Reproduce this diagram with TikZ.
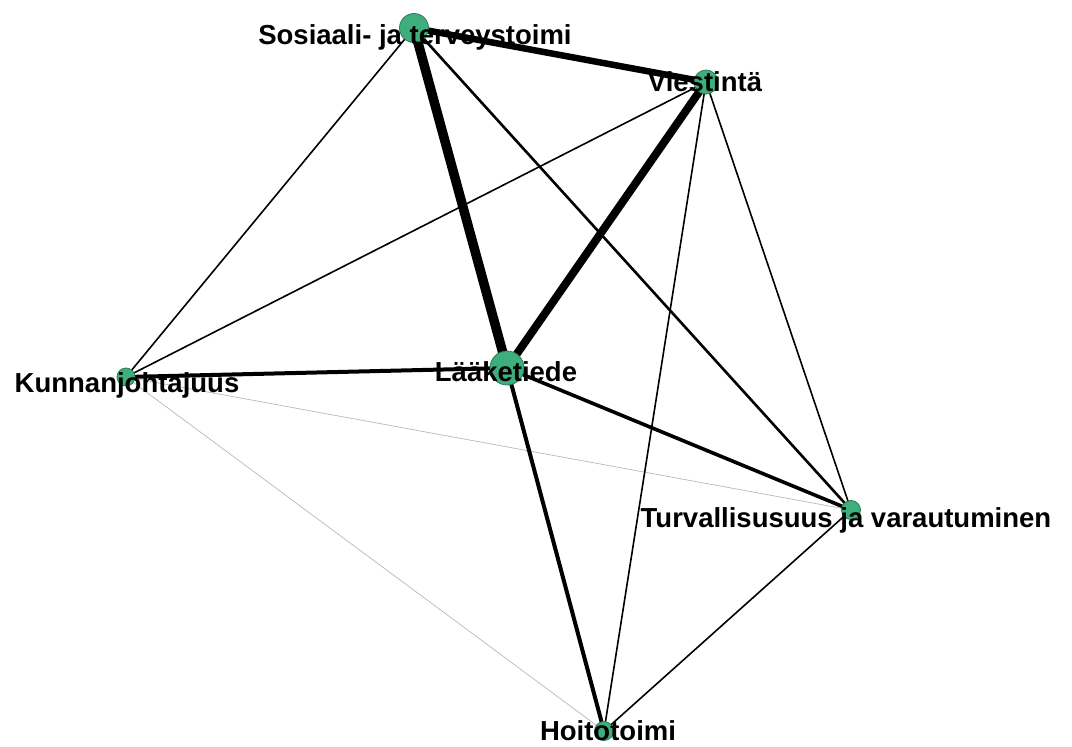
\documentclass[tikz,border=0pt]{standalone}
\usepackage{fontspec}
\setmainfont{Liberation Sans}
\begin{document}
\begin{tikzpicture}[x=1pt,y=-1pt,
  vtx/.style={circle,fill=vgreen,draw=vborder,line width=0.8pt,inner sep=0pt},
  lbl/.style={anchor=base,inner sep=0pt,font=\fontsize{27.5}{32}\selectfont\bfseries,text=black},
  e/.style={draw=black,line width=#1},
  faint/.style={draw=black!28,line width=0.7pt}]
\definecolor{vgreen}{HTML}{3DAE7C}
\definecolor{vborder}{HTML}{2C7D58}
\useasboundingbox (0,0) rectangle (1072,747);
% vertices
\coordinate (sos) at (414,28);
\coordinate (vie) at (706,82);
\coordinate (kun) at (126,377);
\coordinate (laa) at (507,368);
\coordinate (tur) at (851,510);
\coordinate (hoi) at (604,731);
% edges
\draw[faint] (kun) -- (tur);
\draw[faint] (kun) -- (hoi);
\draw[e=1.6pt] (sos) -- (kun);
\draw[e=1.6pt] (vie) -- (kun);
\draw[e=1.6pt] (vie) -- (hoi);
\draw[e=1.6pt] (vie) -- (tur);
\draw[e=1.6pt] (tur) -- (hoi);
\draw[e=2.6pt] (sos) -- (tur);
\draw[e=3.6pt] (laa) -- (tur);
\draw[e=4pt] (laa) -- (hoi);
\draw[e=4pt] (kun) -- (laa);
\draw[e=6.5pt] (sos) -- (vie);
\draw[e=8pt] (vie) -- (laa);
\draw[e=9.5pt] (sos) -- (laa);
% vertex discs
\node[vtx,minimum size=29pt] (nsos) at (sos) {};
\node[vtx,minimum size=24pt] (nvie) at (vie) {};
\node[vtx,minimum size=18pt] (nkun) at (kun) {};
\node[vtx,minimum size=34pt] (nlaa) at (laa) {};
\node[vtx,minimum size=19pt] (ntur) at (tur) {};
\node[vtx,minimum size=19pt] (nhoi) at (hoi) {};
% labels
\node[lbl] (tsos) at (415,44) {Sosiaali- ja terveystoimi};
\node[lbl] (tvie) at (705,91) {Viestintä};
\node[lbl] (tkun) at (127,392) {Kunnanjohtajuus};
\node[lbl] (tlaa) at (506,381) {Lääketiede};
\node[lbl] (ttur) at (846,527) {Turvallisusuus ja varautuminen};
\node[lbl] (thoi) at (608,740) {Hoitotoimi};
\end{tikzpicture}
\end{document}
